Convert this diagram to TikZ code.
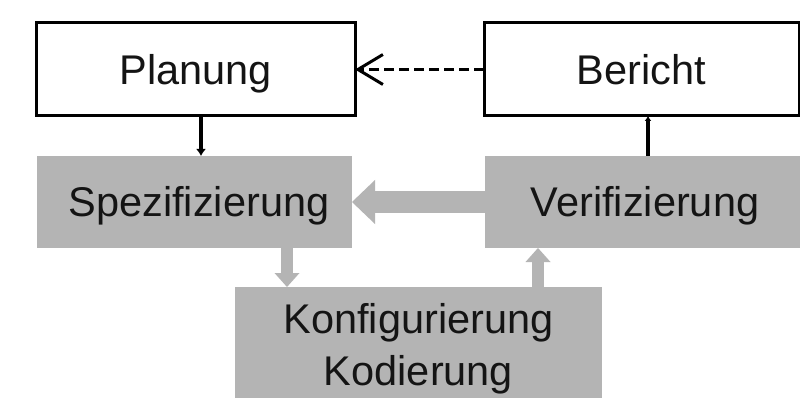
\documentclass[tikz,border=0pt]{standalone}
\usepackage{fontspec}
\setmainfont{Liberation Sans}
\usetikzlibrary{arrows.meta}
\definecolor{boxgray}{RGB}{180,180,180}
\definecolor{txt}{RGB}{20,20,20}
\tikzset{
  whitebox/.style={draw=black, line width=3pt, fill=white, rectangle, inner sep=0pt, outer sep=0pt,
    font=\fontsize{41.5}{55}\selectfont, text=txt, text height=29.7pt, text depth=0pt},
  graybox/.style={draw=none, fill=boxgray, rectangle, inner sep=0pt, outer sep=0pt,
    font=\fontsize{41.5}{52}\selectfont, text=txt, align=center},
  onelinegray/.style={graybox, text height=29.7pt, text depth=0pt},
  blackarrow/.style={draw=black, line width=3.5pt, -{Latex[length=7pt,width=10pt]}},
  grayarrow/.style={draw=boxgray, line width=12pt, -{Triangle[length=14pt,width=25pt,line width=0pt]}},
  bigarrow/.style={draw=boxgray, line width=22pt, -{Triangle[length=23pt,width=44pt,line width=0pt]}},
  dasharrow/.style={draw=black, line width=3pt, dash pattern=on 10pt off 5pt,
    -{Straight Barb[length=25pt,width=30pt,line width=3pt]}}
}
\begin{document}
\begin{tikzpicture}[x=1pt,y=-1pt]
\useasboundingbox (0,0) rectangle (800,398);
\clip (0,0) rectangle (800,398);
\fill[white] (0,0) rectangle (800,398);

\node[whitebox, minimum width=319pt, minimum height=93pt] (planung) at (195.5,69.5) {Planung};
\node[whitebox, minimum width=315pt, minimum height=93pt] (bericht) at (641.5,69.5) {Bericht};
\node[onelinegray, minimum width=315pt, minimum height=92pt] (spez) at (194.5,202) {\hspace*{9pt}Spezifizierung};
\node[onelinegray, minimum width=320pt, minimum height=92pt] (verif) at (645,202) {Verifizierung};
\node[graybox, minimum width=367pt, minimum height=123pt] (konf) at (418.5,348.5) {Konfigurierung\\Kodierung};

\draw[dasharrow] (bericht.west) -- (planung.east);
\draw[blackarrow] ([xshift=5.5pt]planung.south) -- ([xshift=5.5pt]planung.south |- spez.north);
\draw[draw=black, line width=4pt, -{Latex[length=5pt,width=7pt]}] ([xshift=3pt]verif.north) -- ([xshift=3pt]verif.north |- bericht.south);
\draw[bigarrow] (verif.west) -- (spez.east);
\draw[grayarrow] ([xshift=92.5pt]spez.south) -- ([xshift=92.5pt]spez.south |- konf.north);
\draw[grayarrow] ([xshift=119.5pt]konf.north) -- ([xshift=119.5pt]konf.north |- verif.south);
\end{tikzpicture}
\end{document}
